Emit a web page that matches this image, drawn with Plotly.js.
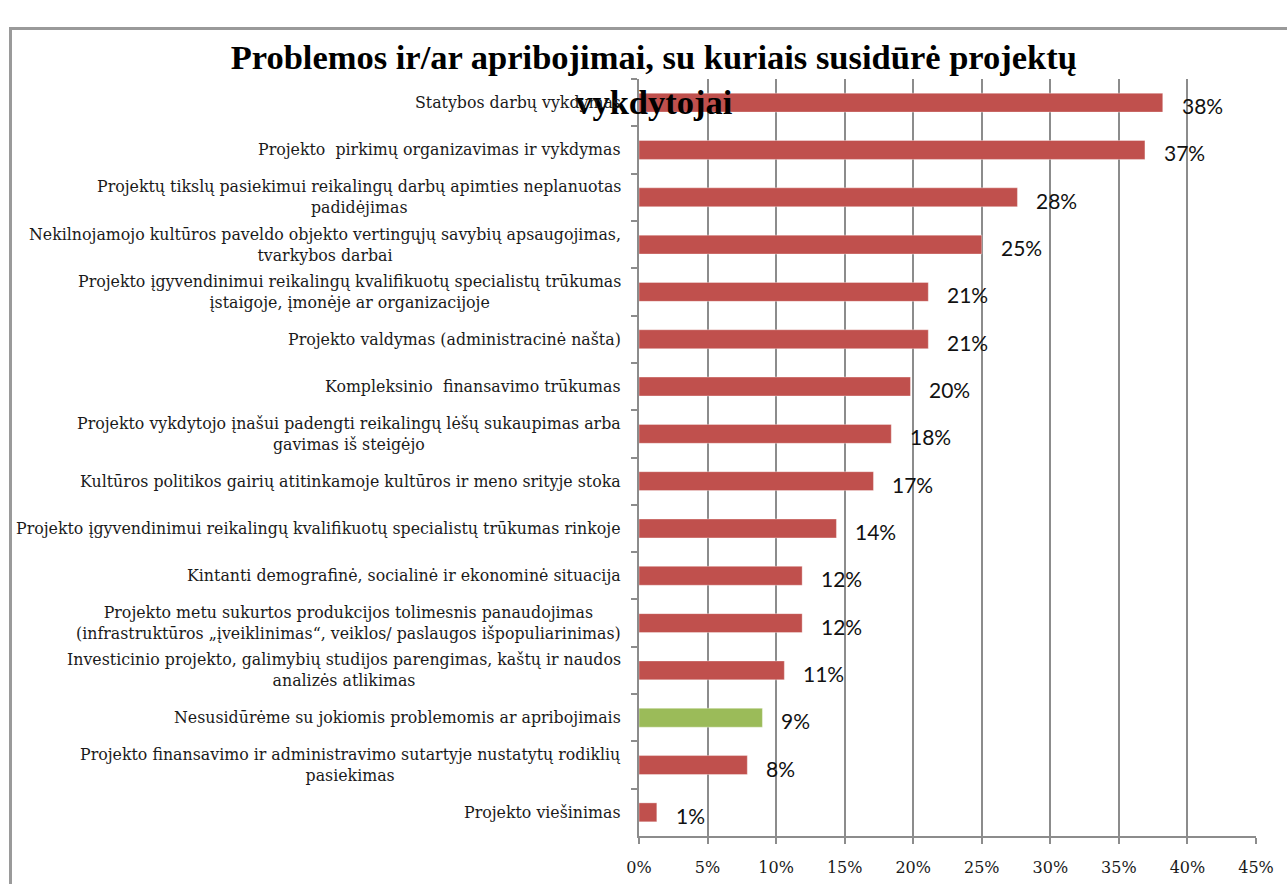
<!DOCTYPE html>
<html>
<head>
<meta charset="utf-8">
<script src="https://cdn.plot.ly/plotly-3.0.1.min.js"></script>
<style>
  html, body { margin: 0; padding: 0; background: #ffffff; }
  #wrap { position: relative; width: 1287px; height: 884px; overflow: hidden; }
  #frame { position: absolute; left: 9px; top: 27px; width: 1290px; height: 870px;
           border-left: 3px solid #9a9a9a; border-top: 3px solid #9a9a9a; box-sizing: border-box; }
  #chart { position: absolute; left: 0; top: 0; width: 1287px; height: 884px; }
</style>
</head>
<body>
<div id="wrap">
  <div id="frame"></div>
  <div id="chart"></div>
</div>
<script>
const chartTitle = 'Problemos ir/ar apribojimai, su kuriais susidūrė projektų<br>vykdytojai';

const categories = [
  'Statybos darbų vykdymas',
  'Projekto  pirkimų organizavimas ir vykdymas',
  'Projektų tikslų pasiekimui reikalingų darbų apimties neplanuotas<br>padidėjimas',
  'Nekilnojamojo kultūros paveldo objekto vertingųjų savybių apsaugojimas,<br>tvarkybos darbai',
  'Projekto įgyvendinimui reikalingų kvalifikuotų specialistų trūkumas<br>įstaigoje, įmonėje ar organizacijoje',
  'Projekto valdymas (administracinė našta)',
  'Kompleksinio  finansavimo trūkumas',
  'Projekto vykdytojo įnašui padengti reikalingų lėšų sukaupimas arba<br>gavimas iš steigėjo',
  'Kultūros politikos gairių atitinkamoje kultūros ir meno srityje stoka',
  'Projekto įgyvendinimui reikalingų kvalifikuotų specialistų trūkumas rinkoje',
  'Kintanti demografinė, socialinė ir ekonominė situacija',
  'Projekto metu sukurtos produkcijos tolimesnis panaudojimas<br>(infrastruktūros „įveiklinimas“, veiklos/ paslaugos išpopuliarinimas)',
  'Investicinio projekto, galimybių studijos parengimas, kaštų ir naudos<br>analizės atlikimas',
  'Nesusidūrėme su jokiomis problemomis ar apribojimais',
  'Projekto finansavimo ir administravimo sutartyje nustatytų rodiklių<br>pasiekimas',
  'Projekto viešinimas'
];

const values = [38.2, 36.9, 27.6, 25.0, 21.1, 21.1, 19.8, 18.4, 17.1, 14.4, 11.9, 11.9, 10.6, 9.0, 7.9, 1.3];

const valueLabels = values.map(v => Math.round(v) + '%');

const xTickValues = [0, 5, 10, 15, 20, 25, 30, 35, 40, 45];
const xTickLabels = xTickValues.map(v => v + '%');

const highlightCategory = 'Nesusidūrėme su jokiomis problemomis ar apribojimais';
const barColor = '#C0504D';
const highlightColor = '#9BBB59';

const ids = categories.map((c, i) => 'c' + i);
const colors = categories.map(c => c === highlightCategory ? highlightColor : barColor);

const trace = {
  type: 'bar',
  orientation: 'h',
  x: values,
  y: ids,
  width: 0.4,
  marker: { color: colors, line: { color: 'rgba(255,255,255,0.35)', width: 1 } },
  hoverinfo: 'skip'
};

const catFont = { family: 'DejaVu Serif', size: 15.8, color: '#1a1a1a' };

const annotations = [];
categories.forEach((c, i) => {
  annotations.push({
    xref: 'paper', yref: 'y', x: 0, y: ids[i],
    xanchor: 'right', yanchor: 'middle', xshift: -16,
    align: 'center', showarrow: false,
    text: c, font: catFont
  });
});
values.forEach((v, i) => {
  annotations.push({
    xref: 'x', yref: 'y', x: v, y: ids[i],
    xanchor: 'left', yanchor: 'middle', xshift: 17, yshift: -3,
    showarrow: false, text: valueLabels[i],
    font: { family: 'Lato', size: 21, color: '#111111' }
  });
});

const layout = {
  width: 1287, height: 884,
  paper_bgcolor: 'rgba(0,0,0,0)',
  plot_bgcolor: 'rgba(0,0,0,0)',
  margin: { l: 639, r: 31, t: 79, b: 48 },
  showlegend: false,
  bargap: 0.6,
  title: {
    text: chartTitle,
    x: 0.508, xanchor: 'center', xref: 'container',
    y: 0.922, yanchor: 'top', yref: 'container',
    font: { family: 'Liberation Serif', size: 34.5, color: '#000000', weight: 'bold' }
  },
  xaxis: {
    range: [0, 45],
    tickvals: xTickValues,
    ticktext: xTickLabels,
    showgrid: true, gridcolor: '#8c8c8c', gridwidth: 2,
    showline: true, linecolor: '#8c8c8c', linewidth: 2,
    ticks: 'outside', ticklen: 6, tickwidth: 2, tickcolor: '#8c8c8c',
    ticklabelstandoff: 10,
    tickfont: { family: 'DejaVu Serif', size: 16, color: '#1a1a1a' },
    zeroline: false, fixedrange: true
  },
  yaxis: {
    type: 'category',
    categoryorder: 'array', categoryarray: ids,
    autorange: 'reversed',
    showticklabels: false,
    tickson: 'boundaries',
    ticks: 'outside', ticklen: 6, tickwidth: 2, tickcolor: '#8c8c8c',
    showgrid: false,
    showline: true, linecolor: '#8c8c8c', linewidth: 2,
    zeroline: false, fixedrange: true
  },
  annotations: annotations
};

Plotly.newPlot('chart', [trace], layout, { displayModeBar: false, staticPlot: true });
</script>
</body>
</html>
